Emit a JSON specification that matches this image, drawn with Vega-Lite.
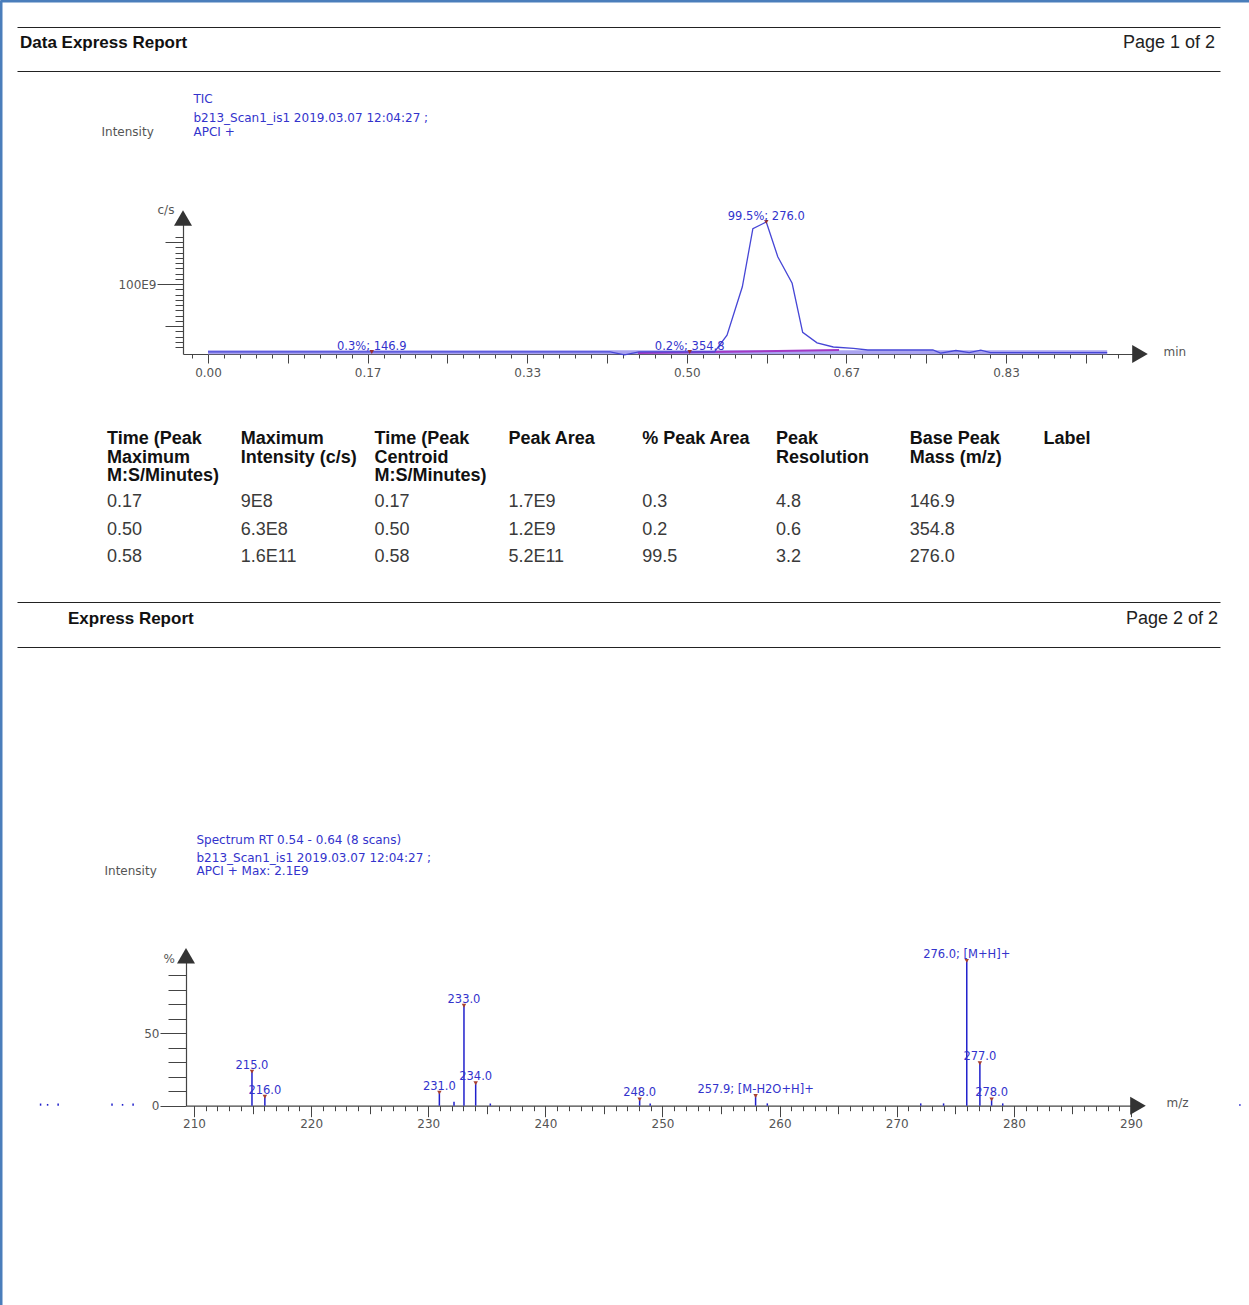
{
  "$schema": "https://vega.github.io/schema/vega-lite/v6.json",
  "width": 1249,
  "height": 1305,
  "autosize": {"type": "none"},
  "padding": 0,
  "background": "white",
  "config": {
    "view": {"stroke": null},
    "font": "DejaVu Sans",
    "axis": {
      "grid": false,
      "labelFont": "DejaVu Sans",
      "labelFontSize": 12,
      "labelColor": "#555555",
      "titleFont": "DejaVu Sans",
      "titleFontSize": 12,
      "titleFontWeight": "normal",
      "titleColor": "#555555",
      "tickColor": "#444444",
      "tickWidth": 1,
      "domainColor": "#444444",
      "domainWidth": 1.2,
      "labelFlush": false,
      "labelOverlap": false,
      "labelBound": false
    }
  },
  "datasets": {
    "page_headers": [
      {"page": 1, "side": "left", "text": "Data Express Report"},
      {"page": 1, "side": "right", "text": "Page 1 of 2"},
      {"page": 2, "side": "left", "text": "Express Report"},
      {"page": 2, "side": "right", "text": "Page 2 of 2"}
    ],
    "tic": [
      {"time": 0.0, "intensity": 2.9},
      {"time": 0.1, "intensity": 2.9},
      {"time": 0.2, "intensity": 2.9},
      {"time": 0.3, "intensity": 2.9},
      {"time": 0.42, "intensity": 2.9},
      {"time": 0.435, "intensity": -1.2},
      {"time": 0.45, "intensity": 2.9},
      {"time": 0.529, "intensity": 3.0},
      {"time": 0.542, "intensity": 27},
      {"time": 0.558, "intensity": 96},
      {"time": 0.569, "intensity": 179},
      {"time": 0.583, "intensity": 188.6},
      {"time": 0.595, "intensity": 139},
      {"time": 0.61, "intensity": 101},
      {"time": 0.621, "intensity": 31},
      {"time": 0.636, "intensity": 16},
      {"time": 0.653, "intensity": 10},
      {"time": 0.674, "intensity": 8},
      {"time": 0.689, "intensity": 5.7},
      {"time": 0.757, "intensity": 5.7},
      {"time": 0.765, "intensity": 1.4},
      {"time": 0.781, "intensity": 5.0},
      {"time": 0.795, "intensity": 1.9},
      {"time": 0.807, "intensity": 5.4},
      {"time": 0.817, "intensity": 1.9},
      {"time": 0.939, "intensity": 2.0}
    ],
    "tic_baseline": [
      {"time": 0.0, "intensity": 2.6},
      {"time": 0.939, "intensity": 2.6}
    ],
    "tic_peak_baseline": [
      {"time": 0.449, "intensity": 1.4},
      {"time": 0.659, "intensity": 5.7}
    ],
    "tic_peaks": [
      {"time": 0.171, "intensity": 2.9, "label": "0.3%; 146.9"},
      {"time": 0.503, "intensity": 2.9, "label": "0.2%; 354.8"},
      {"time": 0.583, "intensity": 188.6, "label": "99.5%; 276.0"}
    ],
    "table_columns": [
      {"column": "t_max", "title": "Time (Peak\nMaximum\nM:S/Minutes)"},
      {"column": "i_max", "title": "Maximum\nIntensity (c/s)"},
      {"column": "t_cent", "title": "Time (Peak\nCentroid\nM:S/Minutes)"},
      {"column": "area", "title": "Peak Area"},
      {"column": "pct", "title": "% Peak Area"},
      {"column": "res", "title": "Peak\nResolution"},
      {"column": "mass", "title": "Base Peak\nMass (m/z)"},
      {"column": "label", "title": "Label"}
    ],
    "peak_table": [
      {"peak": 1, "t_max": "0.17", "i_max": "9E8", "t_cent": "0.17", "area": "1.7E9", "pct": "0.3", "res": "4.8", "mass": "146.9"},
      {"peak": 2, "t_max": "0.50", "i_max": "6.3E8", "t_cent": "0.50", "area": "1.2E9", "pct": "0.2", "res": "0.6", "mass": "354.8"},
      {"peak": 3, "t_max": "0.58", "i_max": "1.6E11", "t_cent": "0.58", "area": "5.2E11", "pct": "99.5", "res": "3.2", "mass": "276.0"}
    ],
    "spectrum": [
      {"mz": 196.9, "pct": 1.5},
      {"mz": 197.5, "pct": 1.2},
      {"mz": 198.4, "pct": 1.5},
      {"mz": 203.0, "pct": 1.5},
      {"mz": 203.9, "pct": 1.2},
      {"mz": 204.8, "pct": 1.5},
      {"mz": 214.95, "pct": 23.5, "label": "215.0"},
      {"mz": 216.05, "pct": 6.2, "label": "216.0"},
      {"mz": 230.95, "pct": 9.0, "label": "231.0"},
      {"mz": 232.2, "pct": 2.8},
      {"mz": 233.05, "pct": 69.0, "label": "233.0"},
      {"mz": 234.05, "pct": 15.5, "label": "234.0"},
      {"mz": 235.3, "pct": 1.5},
      {"mz": 248.05, "pct": 4.4, "label": "248.0"},
      {"mz": 248.95, "pct": 1.6},
      {"mz": 257.95, "pct": 6.7, "label": "257.9; [M-H2O+H]+"},
      {"mz": 258.95, "pct": 1.6},
      {"mz": 272.05, "pct": 1.6},
      {"mz": 274.0, "pct": 1.6},
      {"mz": 275.98, "pct": 100, "label": "276.0; [M+H]+"},
      {"mz": 277.1, "pct": 29.3, "label": "277.0"},
      {"mz": 278.1, "pct": 4.4, "label": "278.0"},
      {"mz": 279.05, "pct": 1.6},
      {"mz": 299.3, "pct": 1.0}
    ]
  },
  "layer": [
    {
      "data": {"values": [{}]},
      "mark": {"type": "point", "opacity": 0},
      "encoding": {
        "x": {"datum": 0, "type": "quantitative", "scale": {"domain": [0, 1], "range": [0, 1249], "nice": false, "zero": false},
          "axis": {"orient": "top", "offset": 0, "domain": true, "domainColor": "#4a7ebb", "domainWidth": 4, "ticks": false, "labels": false, "title": null}},
        "y": {"datum": 0, "type": "quantitative", "scale": {"domain": [0, 1], "range": [0, 1305], "nice": false, "zero": false},
          "axis": {"orient": "left", "offset": 0, "domain": true, "domainColor": "#4a7ebb", "domainWidth": 4, "ticks": false, "labels": false, "title": null}}
      }
    },
    {
      "data": {"name": "page_headers"},
      "encoding": {
        "x": {"field": "side", "type": "nominal", "scale": {"type": "point", "domain": ["left", "right"], "range": [17, 1220], "padding": 0}, "axis": null},
        "y": {"field": "page", "type": "quantitative", "scale": {"domain": [0.97, 2.05], "range": [25.72, 647.8], "nice": false, "zero": false},
          "axis": {"orient": "left", "grid": true, "gridColor": "#222222", "gridWidth": 1.2, "gridOpacity": 1, "values": [0.972222, 1.048611, 1.970486, 2.048611], "domain": false, "ticks": false, "labels": false, "title": null}},
        "text": {"field": "text"}
      },
      "layer": [
        {
          "transform": [{"filter": "datum.side == 'left'"}],
          "mark": {"type": "text", "align": "left", "baseline": "middle", "font": "Liberation Sans", "fontSize": 17, "fontWeight": "bold", "color": "#111111", "dx": {"expr": "datum.page == 1 ? 3 : 51"}}
        },
        {
          "transform": [{"filter": "datum.side == 'right'"}],
          "mark": {"type": "text", "align": "right", "baseline": "middle", "font": "Liberation Sans", "fontSize": 18, "color": "#222222", "dx": {"expr": "datum.page == 1 ? -5 : -2"}}
        }
      ]
    },
    {
      "resolve": {"scale": {"x": "shared", "y": "shared"}, "axis": {"x": "independent", "y": "independent"}},
      "layer": [
        {
          "data": {"name": "tic_baseline"},
          "mark": {"type": "line", "color": "#aaa3f0", "strokeWidth": 4},
          "encoding": {
            "x": {"field": "time", "type": "quantitative", "scale": {"domain": [-0.02611, 0.97327], "range": [183, 1140], "nice": false, "zero": false},
              "axis": {"orient": "bottom", "offset": -951, "values": [-0.0166667, 0, 0.0166667, 0.0333333, 0.05, 0.0666667, 0.0833333, 0.1, 0.1166667, 0.1333333, 0.15, 0.1666667, 0.1833333, 0.2, 0.2166667, 0.2333333, 0.25, 0.2666667, 0.2833333, 0.3, 0.3166667, 0.3333333, 0.35, 0.3666667, 0.3833333, 0.4, 0.4166667, 0.4333333, 0.45, 0.4666667, 0.4833333, 0.5, 0.5166667, 0.5333333, 0.55, 0.5666667, 0.5833333, 0.6, 0.6166667, 0.6333333, 0.65, 0.6666667, 0.6833333, 0.7, 0.7166667, 0.7333333, 0.75, 0.7666667, 0.7833333, 0.8, 0.8166667, 0.8333333, 0.85, 0.8666667, 0.8833333, 0.9, 0.9166667, 0.9333333, 0.95],
                "tickSize": 4, "labels": false, "domain": true, "title": "min", "titleX": 1163, "titleY": 1.3, "titleAlign": "left", "titleBaseline": "alphabetic", "titleAngle": 0}},
            "y": {"field": "intensity", "type": "quantitative", "scale": {"domain": [0, 194.286], "range": [354, 218], "nice": false, "zero": false},
              "axis": {"orient": "left", "offset": -183, "values": [10, 17.5, 25, 32.5, 40, 47.5, 55, 62.5, 70, 77.5, 85, 92.5, 100, 107.5, 115, 122.5, 130, 137.5, 145, 152.5, 160, 167.5],
                "tickSize": 8, "labels": false, "domain": true, "title": "c/s", "titleX": -26, "titleY": 213.3, "titleAngle": 0, "titleAlign": "left", "titleBaseline": "alphabetic"}}
          }
        },
        {
          "data": {"name": "tic_peak_baseline"},
          "mark": {"type": "line", "color": "#a238c4", "strokeWidth": 2},
          "encoding": {
            "x": {"field": "time", "type": "quantitative", "scale": {"domain": [-0.02611, 0.97327], "range": [183, 1140], "nice": false, "zero": false},
              "axis": {"orient": "bottom", "offset": -951, "values": [0, 0.0833333, 0.1666667, 0.25, 0.3333333, 0.4166667, 0.5, 0.5833333, 0.6666667, 0.75, 0.8333333, 0.9166667],
                "tickSize": 9, "labelPadding": 4, "labelExpr": "round(datum.value * 12) % 2 == 0 ? format(datum.value, '.2f') : ''", "domain": false,
                "title": ["b213_Scan1_is1 2019.03.07 12:04:27 ;", "APCI +"], "titleX": 193, "titleY": -232.7, "titleAlign": "left", "titleBaseline": "alphabetic", "titleLineHeight": 14, "titleColor": "#3333cc", "titleAngle": 0}},
            "y": {"field": "intensity", "type": "quantitative", "scale": {"domain": [0, 194.286], "range": [354, 218], "nice": false, "zero": false},
              "axis": {"orient": "left", "offset": -183, "values": [40, 160], "tickSize": 18, "labels": false, "domain": false,
                "title": "Intensity", "titleX": -82, "titleY": 135.3, "titleAngle": 0, "titleAlign": "left", "titleBaseline": "alphabetic"}}
          }
        },
        {
          "data": {"name": "tic"},
          "mark": {"type": "line", "color": "#4646d6", "strokeWidth": 1.3},
          "encoding": {
            "x": {"field": "time", "type": "quantitative", "scale": {"domain": [-0.02611, 0.97327], "range": [183, 1140], "nice": false, "zero": false}, "axis": null},
            "y": {"field": "intensity", "type": "quantitative", "scale": {"domain": [0, 194.286], "range": [354, 218], "nice": false, "zero": false}, "axis": null}
          }
        },
        {
          "data": {"name": "tic_peaks"},
          "mark": {"type": "point", "shape": "triangle-down", "size": 20, "filled": true, "color": "#9a3030", "opacity": 1},
          "encoding": {
            "x": {"field": "time", "type": "quantitative", "scale": {"domain": [-0.02611, 0.97327], "range": [183, 1140], "nice": false, "zero": false}, "axis": null},
            "y": {"field": "intensity", "type": "quantitative", "scale": {"domain": [0, 194.286], "range": [354, 218], "nice": false, "zero": false},
              "axis": {"orient": "left", "offset": -183, "values": [100], "tickSize": 26, "labelPadding": 1, "labelExpr": "'100E9'", "domain": false,
                "title": "TIC", "titleX": 10, "titleY": 102.3, "titleAngle": 0, "titleAlign": "left", "titleBaseline": "alphabetic", "titleColor": "#3333cc"}}
          }
        },
        {
          "data": {"name": "tic_peaks"},
          "mark": {"type": "text", "align": "center", "baseline": "bottom", "font": "DejaVu Sans", "fontSize": 11.5, "color": "#3333cc"},
          "encoding": {
            "x": {"field": "time", "type": "quantitative", "scale": {"domain": [-0.02611, 0.97327], "range": [183, 1140], "nice": false, "zero": false}, "axis": null},
            "y": {"field": "intensity", "type": "quantitative", "scale": {"domain": [0, 194.286], "range": [354, 218], "nice": false, "zero": false}, "axis": null},
            "text": {"field": "label"}
          }
        },
        {
          "data": {"values": [{}]},
          "mark": {"type": "point", "shape": "triangle-up", "size": 324, "filled": true, "color": "#333333", "opacity": 1},
          "encoding": {
            "x": {"datum": -0.02611, "type": "quantitative", "scale": {"domain": [-0.02611, 0.97327], "range": [183, 1140], "nice": false, "zero": false}, "axis": null},
            "y": {"datum": 194.286, "type": "quantitative", "scale": {"domain": [0, 194.286], "range": [354, 218], "nice": false, "zero": false}, "axis": null}
          }
        },
        {
          "data": {"values": [{}]},
          "mark": {"type": "point", "shape": "triangle-right", "size": 324, "filled": true, "color": "#333333", "opacity": 1},
          "encoding": {
            "x": {"datum": 0.97327, "type": "quantitative", "scale": {"domain": [-0.02611, 0.97327], "range": [183, 1140], "nice": false, "zero": false}, "axis": null},
            "y": {"datum": 0, "type": "quantitative", "scale": {"domain": [0, 194.286], "range": [354, 218], "nice": false, "zero": false}, "axis": null}
          }
        }
      ]
    },
    {
      "layer": [
        {
          "data": {"name": "peak_table"},
          "transform": [{"fold": ["t_max", "i_max", "t_cent", "area", "pct", "res", "mass"], "as": ["column", "text"]}],
          "mark": {"type": "text", "align": "left", "baseline": "middle", "font": "Liberation Sans", "fontSize": 18, "color": "#3a3a3a"},
          "encoding": {
            "x": {"field": "column", "type": "nominal", "scale": {"type": "point", "domain": ["t_max", "i_max", "t_cent", "area", "pct", "res", "mass", "label"], "range": [107, 1043.6], "padding": 0}, "axis": null},
            "y": {"field": "peak", "type": "quantitative", "scale": {"domain": [1, 3], "range": [502, 557], "nice": false, "zero": false}, "axis": null},
            "text": {"field": "text"}
          }
        },
        {
          "data": {"name": "table_columns"},
          "mark": {"type": "text", "align": "left", "baseline": "top", "lineBreak": "\n", "lineHeight": 18.5, "font": "Liberation Sans", "fontSize": 18, "fontWeight": "bold", "color": "#111111", "dy": -44.5},
          "encoding": {
            "x": {"field": "column", "type": "nominal", "scale": {"type": "point", "domain": ["t_max", "i_max", "t_cent", "area", "pct", "res", "mass", "label"], "range": [107, 1043.6], "padding": 0}, "axis": null},
            "y": {"datum": 0, "type": "quantitative", "scale": {"domain": [1, 3], "range": [502, 557], "nice": false, "zero": false}, "axis": null},
            "text": {"field": "title"}
          }
        }
      ]
    },
    {
      "resolve": {"scale": {"x": "shared", "y": "shared"}, "axis": {"x": "independent", "y": "independent"}},
      "layer": [
        {
          "data": {"name": "spectrum"},
          "mark": {"type": "rule", "color": "#2020cc", "strokeWidth": 1.5},
          "encoding": {
            "x": {"field": "mz", "type": "quantitative", "scale": {"domain": [209.317, 290.6], "range": [186, 1138], "nice": false, "zero": false},
              "axis": {"orient": "bottom", "offset": -199.3, "values": [210, 211, 212, 213, 214, 215, 216, 217, 218, 219, 220, 221, 222, 223, 224, 225, 226, 227, 228, 229, 230, 231, 232, 233, 234, 235, 236, 237, 238, 239, 240, 241, 242, 243, 244, 245, 246, 247, 248, 249, 250, 251, 252, 253, 254, 255, 256, 257, 258, 259, 260, 261, 262, 263, 264, 265, 266, 267, 268, 269, 270, 271, 272, 273, 274, 275, 276, 277, 278, 279, 280, 281, 282, 283, 284, 285, 286, 287, 288, 289, 290],
                "tickSize": 5, "labels": false, "domain": true, "title": "m/z", "titleX": 1166, "titleY": 0.6, "titleAlign": "left", "titleBaseline": "alphabetic", "titleAngle": 0}},
            "y": {"field": "pct", "type": "quantitative", "scale": {"domain": [0, 103.52], "range": [1105.7, 955.8], "nice": false, "zero": false},
              "axis": {"orient": "left", "offset": -186, "values": [10, 20, 30, 40, 60, 70, 80, 90], "tickSize": 18, "labels": false, "domain": true,
                "title": "%", "titleX": -23, "titleY": 962.3, "titleAngle": 0, "titleAlign": "left", "titleBaseline": "alphabetic"}},
            "y2": {"datum": 0}
          }
        },
        {
          "data": {"name": "spectrum"},
          "transform": [{"filter": "isValid(datum.label)"}],
          "mark": {"type": "point", "shape": "triangle-down", "size": 20, "filled": true, "color": "#a8402f", "opacity": 1},
          "encoding": {
            "x": {"field": "mz", "type": "quantitative", "scale": {"domain": [209.317, 290.6], "range": [186, 1138], "nice": false, "zero": false},
              "axis": {"orient": "bottom", "offset": -199.3, "values": [215, 225, 235, 245, 255, 265, 275, 285], "tickSize": 8, "labels": false, "domain": false,
                "title": "Spectrum RT 0.54 - 0.64 (8 scans)", "titleX": 196, "titleY": -262.4, "titleAlign": "left", "titleBaseline": "alphabetic", "titleColor": "#3333cc", "titleAngle": 0}},
            "y": {"field": "pct", "type": "quantitative", "scale": {"domain": [0, 103.52], "range": [1105.7, 955.8], "nice": false, "zero": false},
              "axis": {"orient": "left", "offset": -186, "values": [0, 50], "tickSize": 26, "labelPadding": 1, "domain": false,
                "title": "Intensity", "titleX": -82, "titleY": 874.3, "titleAngle": 0, "titleAlign": "left", "titleBaseline": "alphabetic"}}
          }
        },
        {
          "data": {"name": "spectrum"},
          "transform": [{"filter": "isValid(datum.label)"}],
          "mark": {"type": "text", "align": "center", "baseline": "bottom", "font": "DejaVu Sans", "fontSize": 11.5, "color": "#3333cc", "dy": -1},
          "encoding": {
            "x": {"field": "mz", "type": "quantitative", "scale": {"domain": [209.317, 290.6], "range": [186, 1138], "nice": false, "zero": false},
              "axis": {"orient": "bottom", "offset": -199.3, "values": [210, 220, 230, 240, 250, 260, 270, 280, 290], "tickSize": 11, "labelPadding": 2, "domain": false,
                "title": ["b213_Scan1_is1 2019.03.07 12:04:27 ;", "APCI + Max: 2.1E9"], "titleX": 196, "titleY": -244.4, "titleAlign": "left", "titleBaseline": "alphabetic", "titleLineHeight": 13.5, "titleColor": "#3333cc", "titleAngle": 0}},
            "y": {"field": "pct", "type": "quantitative", "scale": {"domain": [0, 103.52], "range": [1105.7, 955.8], "nice": false, "zero": false}, "axis": null},
            "text": {"field": "label"}
          }
        },
        {
          "data": {"values": [{}]},
          "mark": {"type": "point", "shape": "triangle-up", "size": 324, "filled": true, "color": "#333333", "opacity": 1},
          "encoding": {
            "x": {"datum": 209.317, "type": "quantitative", "scale": {"domain": [209.317, 290.6], "range": [186, 1138], "nice": false, "zero": false}, "axis": null},
            "y": {"datum": 103.52, "type": "quantitative", "scale": {"domain": [0, 103.52], "range": [1105.7, 955.8], "nice": false, "zero": false}, "axis": null}
          }
        },
        {
          "data": {"values": [{}]},
          "mark": {"type": "point", "shape": "triangle-right", "size": 324, "filled": true, "color": "#333333", "opacity": 1},
          "encoding": {
            "x": {"datum": 290.6, "type": "quantitative", "scale": {"domain": [209.317, 290.6], "range": [186, 1138], "nice": false, "zero": false}, "axis": null},
            "y": {"datum": 0, "type": "quantitative", "scale": {"domain": [0, 103.52], "range": [1105.7, 955.8], "nice": false, "zero": false}, "axis": null}
          }
        }
      ]
    }
  ],
  "resolve": {"scale": {"x": "independent", "y": "independent"}, "axis": {"x": "independent", "y": "independent"}}
}
